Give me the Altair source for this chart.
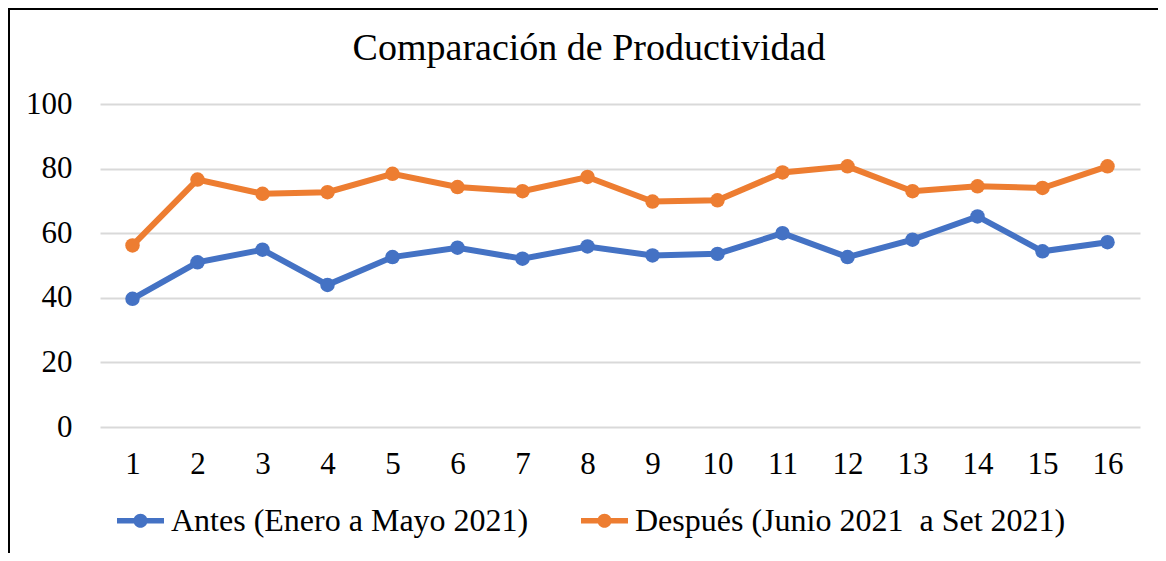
import altair as alt
import pandas as pd

categories = list(range(1, 17))
antes = [39.7, 51.0, 54.9, 44.0, 52.6, 55.5, 52.1, 55.9, 53.1, 53.6, 60.0, 52.6, 58.0, 65.2, 54.4, 57.2]
despues = [56.2, 76.6, 72.2, 72.7, 78.4, 74.3, 73.0, 77.4, 69.8, 70.2, 78.8, 80.7, 73.0, 74.5, 74.0, 80.7]
series_names = ["Antes (Enero a Mayo 2021)", "Después (Junio 2021 \u00a0a Set 2021)"]
series_codes = ["antes", "despues"]
colors = ["#4472C4", "#ED7D31"]
y_ticks = [0, 20, 40, 60, 80, 100]
title_text = "Comparación de Productividad"

rows = []
for name, code, vals in zip(series_names, series_codes, [antes, despues]):
    for c, v in zip(categories, vals):
        rows.append({"cat": c, "valor": v, "serie": name, "code": code})
df = pd.DataFrame(rows)

FONT = "Liberation Serif"
W, H = 1040, 323

x_enc = alt.X("cat:O", scale=alt.Scale(type="point", padding=0.5), title=None,
              axis=alt.Axis(labelAngle=0, ticks=False, domain=False, grid=False,
                            labelFont=FONT, labelFontSize=31, labelColor="#000000",
                            labelBaseline="alphabetic", labelPadding=46))
y_enc = alt.Y("valor:Q", scale=alt.Scale(domain=[0, 100], nice=False), title=None,
              axis=alt.Axis(values=y_ticks, ticks=False, domain=False, grid=True,
                            gridColor="#d9d9d9", gridWidth=2,
                            labelFont=FONT, labelFontSize=31, labelColor="#000000",
                            labelPadding=28))

path = ("M-1,-0.12 L1,-0.12 L1,0.12 L-1,0.12 Z "
        "M0.3,0 A0.3,0.3 0 1,1 -0.3,0 A0.3,0.3 0 1,1 0.3,0 Z")

border = alt.Chart(pd.DataFrame({"k": [0]})).mark_rect(
    fill=None, stroke="#000000", strokeWidth=2
).encode(x=alt.value(-91), x2=alt.value(1200), y=alt.value(-95), y2=alt.value(600))

title = alt.Chart(pd.DataFrame({"t": [title_text]})).mark_text(
    font=FONT, fontSize=38, color="#000000", align="center", baseline="alphabetic"
).encode(text="t:N", x=alt.value(489), y=alt.value(-44))

lines = alt.Chart(df).mark_line(strokeWidth=6).encode(
    x=x_enc, y=y_enc,
    stroke=alt.Stroke("code:N", scale=alt.Scale(domain=series_codes, range=colors), legend=None),
)

points = alt.Chart(df).mark_point(filled=True, size=210, opacity=1, strokeWidth=0).encode(
    x=x_enc, y=y_enc,
    color=alt.Color("serie:N", scale=alt.Scale(domain=series_names, range=colors),
                    legend=alt.Legend(title=None, orient="bottom", direction="horizontal",
                                      padding=17, offset=1,
                                      symbolType=path, symbolSize=2209, symbolStrokeWidth=0,
                                      labelFont=FONT, labelFontSize=32, labelColor="#000000",
                                      labelOffset=7, columnPadding=52, labelLimit=1000)),
)

chart = alt.layer(border, title, lines, points).properties(
    width=W, height=H,
    autosize=alt.AutoSizeParams(type="none"),
    padding={"left": 92, "top": 96, "right": 18, "bottom": 126},
).configure_view(stroke=None)

chart.save("out.html", embed_options={"renderer": "svg", "actions": False})
